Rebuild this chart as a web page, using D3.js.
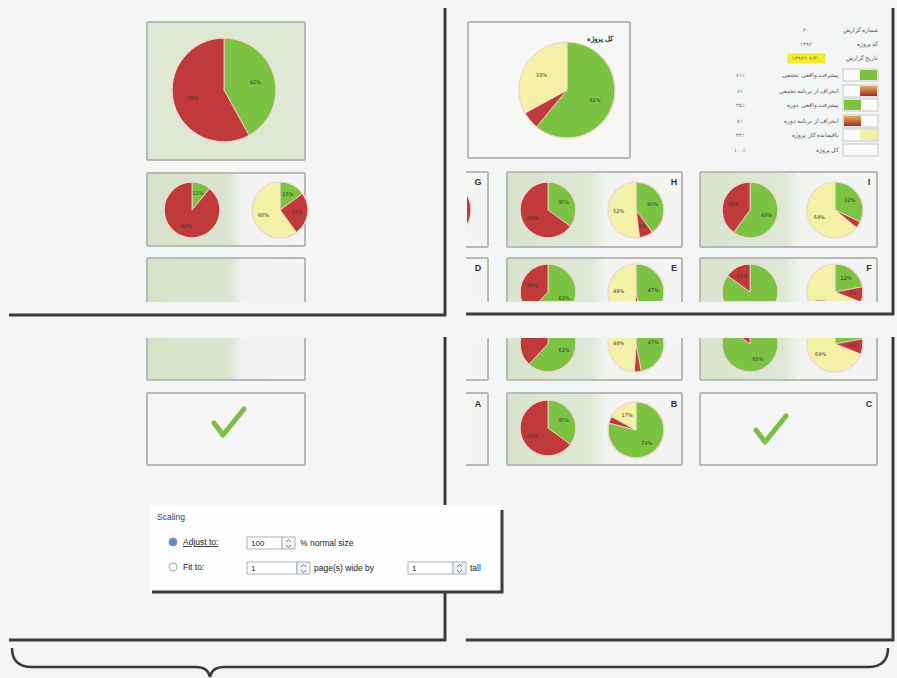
<!DOCTYPE html>
<html>
<head>
<meta charset="utf-8">
<script src="https://cdn.jsdelivr.net/npm/d3@7"></script>
<style>
  html, body { margin: 0; padding: 0; background: #f4f5f5; }
  svg { display: block; }
</style>
</head>
<body>
<div id="chart"></div>
<script>
// pie values, in order green / red / yellow
var pieColors = ["#7cc243", "#c0393b", "#f3f1a6"];
var pieBig = [42, 58];
var pieLeftA = [11, 89];
var pieLeftB = [15, 25, 60];
var pieTotal = [61, 6, 33];
var pieG = [10, 90];
var pieH1 = [35, 65];
var pieH2 = [40, 8, 52];
var pieI1 = [60, 40];
var pieI2 = [32, 4, 64];
var pieD1 = [62, 38];
var pieE2 = [47, 4, 49];
var pieF1 = [85, 15];
var pieF2 = [22, 9, 69];
var pieB1 = [35, 65];
var pieB2 = [79, 4, 17];

var boxLetters = ["G", "H", "I", "D", "E", "F", "A", "B", "C"];

var legendTop = ["شماره گزارش", "کد پروژه", "تاریخ گزارش"];
var legendTopValues = ["۳۰", "۱۳۹۲", "۱۳۹۲/۰۶/۳۰"];
var legendLabels = ["پیشرفت واقعی تجمعی", "انحراف از برنامه تجمعی", "پیشرفت واقعی دوره", "انحراف از برنامه دوره", "باقیمانده کار پروژه", "کل پروژه"];
var legendValues = ["۶۱٪", "۶٪", "۳۵٪", "۸٪", "۳۳٪", "۱۰۰٪"];
var legendSwatch = ["#7cc243", "#b5452c", "#7cc243", "#b5452c", "#f3f1a6", "#ffffff"];

var scalingLabels = ["Scaling", "Adjust to:", "Fit to:", "% normal size", "page(s) wide by", "tall"];
var scalingValues = ["100", "1", "1"];

var width = 897, height = 678;

var svg = d3.select("#chart")
	.append("svg")
	.attr("width", width)
	.attr("height", height);

var defs = svg.append("defs");

var grad = defs.append("linearGradient").attr("id", "plotbg");
grad.append("stop").attr("offset", "0%").attr("stop-color", "#d9e4cd");
grad.append("stop").attr("offset", "48%").attr("stop-color", "#dfe8d6");
grad.append("stop").attr("offset", "56%").attr("stop-color", "#f1f3ef");
grad.append("stop").attr("offset", "100%").attr("stop-color", "#f4f5f3");

var gradLeft = defs.append("linearGradient").attr("id", "plotbgLeft");
gradLeft.append("stop").attr("offset", "0%").attr("stop-color", "#d6e2c8");
gradLeft.append("stop").attr("offset", "52%").attr("stop-color", "#dbe5cf");
gradLeft.append("stop").attr("offset", "60%").attr("stop-color", "#f2f3f1");
gradLeft.append("stop").attr("offset", "100%").attr("stop-color", "#f4f5f3");

var swRed = defs.append("linearGradient").attr("id", "swRed").attr("x1", 0).attr("x2", 0).attr("y1", 0).attr("y2", 1);
swRed.append("stop").attr("offset", "0%").attr("stop-color", "#e0b060");
swRed.append("stop").attr("offset", "100%").attr("stop-color", "#9a2e20");

var pie = d3.pie().sort(null).value(d => d);
var clipCount = 0;

function addClip(x, y, w, h) {
	var id = "clip" + (clipCount++);
	defs.append("clipPath").attr("id", id)
		.append("rect").attr("x", x).attr("y", y).attr("width", w).attr("height", h);
	return "url(#" + id + ")";
}

function drawPie(parent, cx, cy, r, values, clip) {
	var g = parent.append("g").attr("transform", "translate(" + cx + "," + cy + ")");
	if (clip) {
		g = parent.append("g").attr("clip-path", clip)
			.append("g").attr("transform", "translate(" + cx + "," + cy + ")");
	}
	var arc = d3.arc().innerRadius(0).outerRadius(r);
	var labelArc = d3.arc().innerRadius(r * 0.62).outerRadius(r * 0.62);
	var total = d3.sum(values);
	var arcs = pie(values);
	g.selectAll("path")
		.data(arcs)
		.join("path")
		.attr("d", arc)
		.attr("fill", (d, i) => pieColors[i])
		.attr("stroke", "#f3dcd3")
		.attr("stroke-width", 0.8);
	g.append("circle").attr("r", r).attr("fill", "none")
		.attr("stroke", "#efd7cf").attr("stroke-width", 1.2);
	g.selectAll("text")
		.data(arcs.filter(d => d.value / total > 0.07))
		.join("text")
		.attr("transform", d => "translate(" + labelArc.centroid(d) + ")")
		.attr("text-anchor", "middle")
		.attr("dy", "0.35em")
		.attr("font-family", "DejaVu Sans")
		.attr("font-size", 5)
		.attr("fill", "#333")
		.text(d => Math.round(d.value / total * 100) + "%");
}

function drawBox(x, y, w, h, opts) {
	opts = opts || {};
	var g = svg.append("g");
	var fill = opts.fill || "#f4f5f3";
	g.append("rect").attr("x", x).attr("y", y).attr("width", w).attr("height", h)
		.attr("fill", fill);
	var line = (x1, y1, x2, y2) => g.append("line")
		.attr("x1", x1).attr("y1", y1).attr("x2", x2).attr("y2", y2)
		.attr("stroke", "#b9b9b6").attr("stroke-width", 2);
	if (!opts.noTop) line(x, y, x + w, y);
	if (!opts.noBottom) line(x, y + h, x + w, y + h);
	if (!opts.noLeft) line(x, y, x, y + h);
	if (!opts.noRight) line(x + w, y, x + w, y + h);
	return g;
}

function drawLetter(x, y, t) {
	svg.append("text").attr("x", x).attr("y", y)
		.attr("text-anchor", "middle")
		.attr("font-family", "Liberation Sans").attr("font-weight", "bold")
		.attr("font-size", 9).attr("fill", "#333").text(t);
}

function drawCheck(cx, cy) {
	var pts = [[-14, 0], [-5, 12], [16, -14]];
	svg.append("path")
		.attr("d", d3.line()(pts.map(p => [cx + p[0], cy + p[1]])))
		.attr("fill", "none").attr("stroke", "#7cbf45")
		.attr("stroke-width", 5).attr("stroke-linecap", "round").attr("stroke-linejoin", "round");
}

// ---------- top-left page ----------
drawBox(147, 22, 158, 138, { fill: "#dfe8d5" });
drawPie(svg, 224, 90, 52, pieBig);

drawBox(147, 173, 158, 73, { fill: "url(#plotbgLeft)" });
drawPie(svg, 192, 210, 28, pieLeftA);
drawPie(svg, 280, 210, 28, pieLeftB);

drawBox(147, 258, 158, 44, { fill: "url(#plotbgLeft)", noBottom: true });

// ---------- bottom-left page ----------
drawBox(147, 338, 158, 42, { fill: "url(#plotbgLeft)", noTop: true });
drawBox(147, 393, 158, 72, { fill: "#f4f5f4" });
drawCheck(228, 423);

// ---------- top-right page ----------
drawBox(468, 22, 162, 136, { fill: "#f7f7f6" });
drawPie(svg, 567, 90, 48, pieTotal);
svg.append("text").attr("x", 600).attr("y", 41).attr("text-anchor", "middle")
	.attr("font-family", "Noto Sans").attr("font-weight", "bold")
	.attr("font-size", 7).attr("fill", "#333").text("کل پروژه");

// legend block
var legTop = svg.append("g");
var topRows = [30, 44, 58];
legTop.selectAll("text.lab")
	.data(legendTop)
	.join("text")
	.attr("class", "lab")
	.attr("x", 878)
	.attr("y", (d, i) => topRows[i] + 2)
	.attr("text-anchor", "end")
	.attr("font-family", "Noto Sans").attr("font-size", 5.5).attr("fill", "#555")
	.text(d => d);
legTop.append("rect").attr("x", 788).attr("y", 54).attr("width", 37).attr("height", 9)
	.attr("fill", "#f2ee2c").attr("stroke", "#d9d420").attr("stroke-width", 0.5);
legTop.selectAll("text.val")
	.data(legendTopValues)
	.join("text")
	.attr("class", "val")
	.attr("x", 806)
	.attr("y", (d, i) => topRows[i] + 2)
	.attr("text-anchor", "middle")
	.attr("font-family", "Noto Sans").attr("font-size", 5).attr("fill", "#555")
	.text(d => d);

var legRows = [75, 91, 105, 121, 135, 150];
var leg = svg.append("g");
legendLabels.forEach((lab, i) => {
	var y = legRows[i];
	var colorLeft = (i === 2 || i === 3);
	leg.append("rect").attr("x", 843).attr("y", y - 6).attr("width", 35).attr("height", 12)
		.attr("fill", "#fafafa").attr("stroke", "#c8c8c8").attr("stroke-width", 1);
	if (i < 5) {
		var sw = legendSwatch[i];
		leg.append("rect").attr("x", colorLeft ? 844 : 860).attr("y", y - 5).attr("width", 17).attr("height", 10)
			.attr("fill", sw === "#b5452c" ? "url(#swRed)" : sw);
	}
	leg.append("text").attr("x", 839).attr("y", y + 2).attr("text-anchor", "end")
		.attr("font-family", "Noto Sans").attr("font-size", 5.5).attr("fill", "#555").text(lab);
	leg.append("text").attr("x", 740).attr("y", y + 2).attr("text-anchor", "middle")
		.attr("font-family", "Noto Sans").attr("font-size", 5).attr("fill", "#555").text(legendValues[i]);
});

// row G H I
drawBox(466, 172, 22, 75, { noLeft: true });
drawPie(svg, 441, 210, 30, pieG, addClip(467, 173, 21, 73));
drawLetter(478, 185, boxLetters[0]);

drawBox(507, 172, 175, 75, { fill: "url(#plotbg)" });
drawPie(svg, 548, 210, 28, pieH1);
drawPie(svg, 636, 210, 28, pieH2);
drawLetter(674, 185, boxLetters[1]);

drawBox(700, 172, 177, 75, { fill: "url(#plotbg)" });
drawPie(svg, 750, 210, 28, pieI1);
drawPie(svg, 835, 210, 28, pieI2);
drawLetter(869, 185, boxLetters[2]);

// row D E F, cut by the page break
drawBox(466, 258, 22, 44, { noLeft: true, noBottom: true });
drawLetter(478, 271, boxLetters[3]);
drawBox(507, 258, 175, 44, { fill: "url(#plotbg)", noBottom: true });
var clipTopE = addClip(506, 259, 177, 42);
drawPie(svg, 548, 292, 28, pieD1, clipTopE);
drawPie(svg, 636, 292, 28, pieE2, clipTopE);
drawLetter(674, 271, boxLetters[4]);
drawBox(700, 258, 177, 44, { fill: "url(#plotbg)", noBottom: true });
var clipTopF = addClip(699, 259, 179, 42);
drawPie(svg, 750, 292, 28, pieF1, clipTopF);
drawPie(svg, 835, 292, 28, pieF2, clipTopF);
drawLetter(869, 271, boxLetters[5]);

// ---------- bottom-right page ----------
drawBox(466, 338, 22, 42, { noLeft: true, noTop: true });
drawBox(507, 338, 175, 42, { fill: "url(#plotbg)", noTop: true });
var clipBotE = addClip(506, 338, 177, 41);
drawPie(svg, 548, 344, 28, pieD1, clipBotE);
drawPie(svg, 636, 344, 28, pieE2, clipBotE);
drawBox(700, 338, 177, 42, { fill: "url(#plotbg)", noTop: true });
var clipBotF = addClip(699, 338, 179, 41);
drawPie(svg, 750, 344, 28, pieF1, clipBotF);
drawPie(svg, 835, 344, 28, pieF2, clipBotF);

drawBox(466, 393, 22, 72, { noLeft: true });
drawLetter(478, 407, boxLetters[6]);
drawBox(507, 393, 175, 72, { fill: "url(#plotbg)" });
drawPie(svg, 548, 428, 28, pieB1);
drawPie(svg, 636, 430, 28, pieB2);
drawLetter(674, 407, boxLetters[7]);
drawBox(700, 393, 177, 72, { fill: "#f5f6f5" });
drawCheck(770, 430);
drawLetter(869, 407, boxLetters[8]);

// ---------- page borders ----------
var borders = svg.append("g").attr("stroke", "#3b3b3b").attr("stroke-width", 3).attr("fill", "none");
var segs = [
	[445, 8, 445, 316], [9, 315, 446, 315],
	[466, 314, 894, 314], [893, 8, 893, 315],
	[445, 337, 445, 505], [445, 593, 445, 641], [9, 640, 446, 640],
	[466, 640, 894, 640], [893, 337, 893, 641]
];
borders.selectAll("line").data(segs).join("line")
	.attr("x1", d => d[0]).attr("y1", d => d[1]).attr("x2", d => d[2]).attr("y2", d => d[3]);

// brace under the pages
svg.append("path")
	.attr("d", "M12,648 Q12,667 32,667 L196,667 Q208,667 210,677 Q212,667 224,667 L868,667 Q888,667 888,648")
	.attr("fill", "none").attr("stroke", "#3b3b3b").attr("stroke-width", 2.5);

// ---------- scaling dialog ----------
var dlg = svg.append("g");
dlg.append("rect").attr("x", 150).attr("y", 505).attr("width", 352).attr("height", 87)
	.attr("fill", "#fdfdfd");
dlg.append("path").attr("d", "M152,592 L502,592 L502,510")
	.attr("fill", "none").attr("stroke", "#3b3b3b").attr("stroke-width", 3);

var uiFont = "Liberation Sans";
dlg.append("text").attr("x", 157).attr("y", 520).attr("font-family", uiFont)
	.attr("font-size", 8.5).attr("fill", "#1e3f7a").text(scalingLabels[0]);

// radio buttons
dlg.append("circle").attr("cx", 173).attr("cy", 542).attr("r", 4)
	.attr("fill", "#5b8bd0").attr("stroke", "#7c98c0");
dlg.append("circle").attr("cx", 173).attr("cy", 567).attr("r", 4)
	.attr("fill", "#fff").attr("stroke", "#9aa7b8");
dlg.append("text").attr("x", 183).attr("y", 545).attr("font-family", uiFont)
	.attr("font-size", 8.5).attr("fill", "#222").attr("text-decoration", "underline").text(scalingLabels[1]);
dlg.append("text").attr("x", 183).attr("y", 570).attr("font-family", uiFont)
	.attr("font-size", 8.5).attr("fill", "#222").text(scalingLabels[2]);

function inputBox(x, y, w, val) {
	dlg.append("rect").attr("x", x).attr("y", y).attr("width", w).attr("height", 12)
		.attr("fill", "#fff").attr("stroke", "#a9b3c2");
	dlg.append("text").attr("x", x + 4).attr("y", y + 9).attr("font-family", uiFont)
		.attr("font-size", 8).attr("fill", "#222").text(val);
	dlg.append("rect").attr("x", x + w).attr("y", y).attr("width", 13).attr("height", 12)
		.attr("fill", "#f1f3f6").attr("stroke", "#a9b3c2");
	dlg.append("path").attr("d", "M" + (x + w + 4) + "," + (y + 5) + " l2.5,-2.5 l2.5,2.5 M" + (x + w + 4) + "," + (y + 8) + " l2.5,2.5 l2.5,-2.5")
		.attr("fill", "none").attr("stroke", "#555").attr("stroke-width", 0.8);
}
inputBox(247, 537, 35, scalingValues[0]);
inputBox(247, 562, 50, scalingValues[1]);
inputBox(408, 562, 45, scalingValues[2]);
dlg.append("text").attr("x", 300).attr("y", 546).attr("font-family", uiFont)
	.attr("font-size", 8.5).attr("fill", "#222").text(scalingLabels[3]);
dlg.append("text").attr("x", 314).attr("y", 571).attr("font-family", uiFont)
	.attr("font-size", 8.5).attr("fill", "#222").text(scalingLabels[4]);
dlg.append("text").attr("x", 470).attr("y", 571).attr("font-family", uiFont)
	.attr("font-size", 8.5).attr("fill", "#222").text(scalingLabels[5]);
</script>
</body>
</html>
